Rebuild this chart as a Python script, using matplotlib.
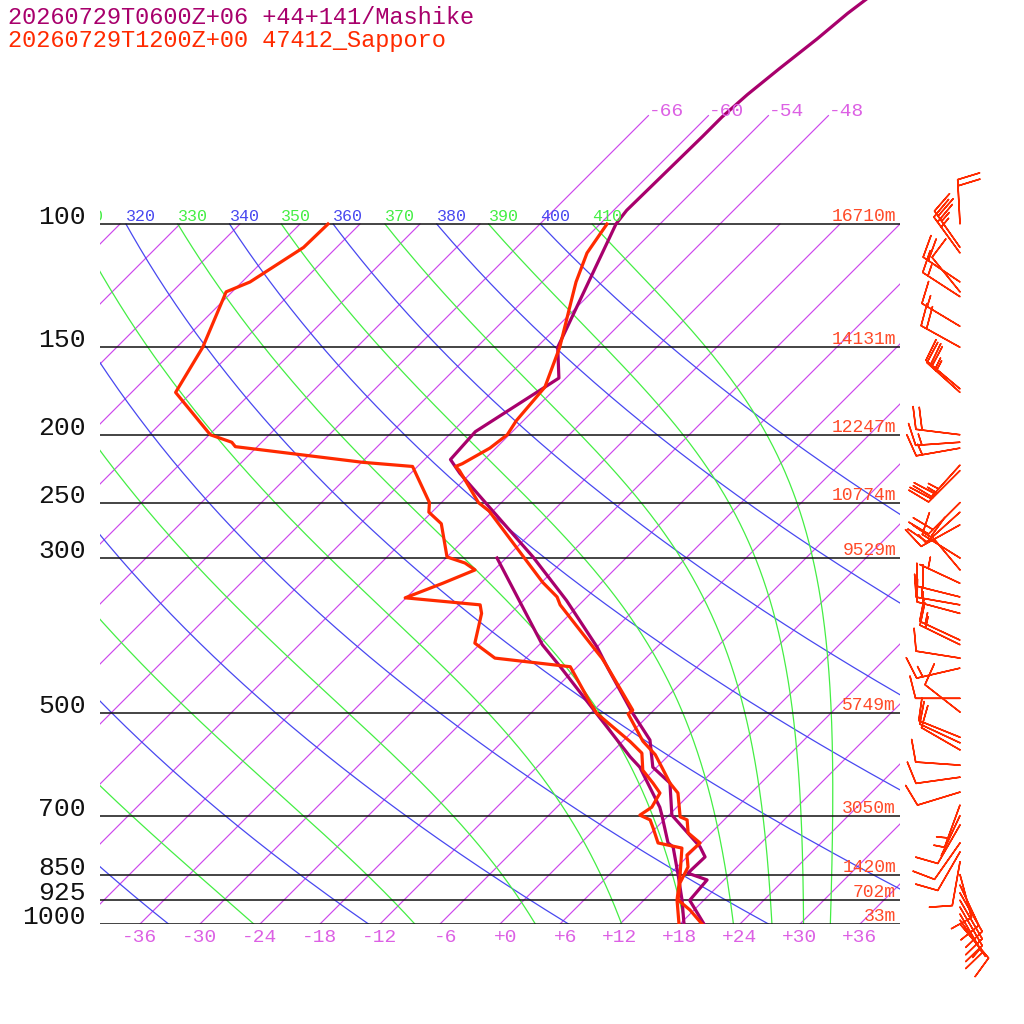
import numpy as np
import matplotlib
matplotlib.use("Agg")
import matplotlib.pyplot as plt
import matplotlib.transforms as mtransforms

plt.rcParams['font.family'] = ['Liberation Mono', 'DejaVu Sans Mono']

# ---- data ----
title_mashike = "20260729T0600Z+06 +44+141/Mashike"
title_sapporo = "20260729T1200Z+00 47412_Sapporo"

mashike_p = [1000, 925, 865, 846, 802, 776, 699, 629, 597, 546, 498, 431, 402, 345,
             299, 254, 227, 217, 198, 172, 166, 150, 100, 95.6, 74.9, 70.3, 65.3,
             60.0, 54.4, 50.0, 47.5]
mashike_t = [20.4, 16.6, 16.3, 13.7, 13.8, 12.3, 6.3, 2.9, -0.4, -3.4, -8.0, -14.8,
             -18.0, -25.7, -33.4, -42.7, -49.1, -51.4, -51.7, -49.3, -48.7, -51.9,
             -58.4, -58.7, -58.5, -58.5, -58.2, -57.6, -56.8, -56.3, -55.8]
mashike_td_p = [1000, 924, 846, 776, 766, 699, 681, 597, 577, 493, 429, 399, 300]
mashike_td = [18.4, 15.8, 12.7, 9.6, 8.7, 5.3, 4.3, -1.7, -3.7, -12.2, -19.7, -23.7, -36.9]

sapporo_p = [1000, 955, 924, 874, 829, 797, 766, 741, 710, 703, 650, 629, 597, 573,
             548, 501, 495, 429, 417, 402, 350, 341, 325, 257, 250, 225, 222, 220,
             209, 200, 191, 171, 150, 127, 121, 110, 100]
sapporo_t = [20.2, 17.6, 15.4, 13.9, 13.1, 11.8, 11.9, 9.7, 8.3, 7.3, 4.7, 2.9, 0.5,
             -1.4, -4.0, -8.2, -8.1, -15.0, -16.4, -18.4, -25.9, -27.0, -29.9, -42.4,
             -44.3, -49.4, -50.2, -49.8, -48.6, -48.2, -48.7, -49.2, -51.7, -55.5,
             -56.6, -58.4, -59.3]
sapporo_td_p = [1000, 924, 857, 779, 766, 729, 710, 699, 681, 650, 629, 603, 570, 549,
                500, 482, 429, 417, 397, 360, 350, 342, 326, 312, 305, 299, 268, 258,
                250, 222, 219, 208, 205, 200, 174, 150, 125, 121, 108, 100]
sapporo_td = [17.9, 15.3, 13.3, 10.6, 7.7, 5.7, 4.6, 3.1, 3.5, 2.9, 1.2, -1.1, -2.9,
              -5.2, -11.4, -13.2, -18.7, -27.1, -30.6, -32.9, -33.9, -42.1, -39.8,
              -37.9, -39.6, -42.0, -45.9, -48.3, -49.2, -54.5, -59.9, -74.2, -75.0,
              -77.9, -85.6, -87.4, -90.6, -89.2, -87.3, -87.2]

levels = [100, 150, 200, 250, 300, 500, 700, 850, 925, 1000]
heights = ["16710m", "14131m", "12247m", "10774m", "9529m", "5749m", "3050m",
           "1420m", "702m", "33m"]

wind_p = [100, 108, 110, 121, 125, 127, 140, 150, 172, 174, 200, 205, 209, 221, 225,
          250, 258, 269, 300, 312, 326, 341, 350, 360, 393, 399, 417, 431, 476, 498,
          541, 551, 564, 593, 617, 648, 676, 700, 722, 766, 789, 815, 850, 880, 903,
          925, 946, 968, 987, 1000]
wind_dir = [357, 325, 324, 304, 321, 303, 301, 299, 310, 312, 277, 266, 260, 222, 225,
            225, 228, 241, 302, 320, 295, 284, 280, 285, 295, 296, 279, 257, 270, 308,
            292, 295, 300, 274, 262, 253, 200, 205, 210, 215, 210, 190, 165, 155, 150,
            150, 150, 150, 145, 140]
wind_kt = [20, 25, 25, 20, 10, 15, 15, 20, 25, 25, 20, 15, 15, 25, 25,
           20, 20, 15, 10, 10, 5, 20, 15, 15, 15, 15, 10, 15, 10, 10,
           10, 10, 10, 10, 10, 10, 5, 5, 10, 10, 10, 10, 10, 10, 10,
           10, 10, 10, 5, 10]

isotherms = np.arange(-114, 37, 6)
top_isotherms = [-66, -60, -54, -48]
dry_thetas = np.arange(240, 401, 20)
moist_thetas = np.arange(250, 411, 20)
t_ticks = np.arange(-36, 37, 6)

c_mashike = "#a8006c"
c_sapporo = "#ff2a00"
c_iso = "#cc48ec"
c_iso_lab = "#dc60e4"
c_dry = "#4848f0"
c_moist = "#44ee44"
c_height = "#ff4a28"

P_TOP = 1000 * np.exp(-924 / 304)


def moist_adiabat(theta_top, p):
    def dtdp(pp, t):
        es = 6.112 * np.exp(17.67 * (t - 273.15) / (t - 29.65))
        rs = 0.622 * es / (pp - es)
        return (287.04 * t + 2.501e6 * rs) / (
            1005.7 + 2.501e6 ** 2 * rs * 0.622 / (287.04 * t * t)) / pp
    t = np.empty_like(p)
    t[0] = theta_top * (p[0] / 1000) ** 0.2857
    for i in range(len(p) - 1):
        h = p[i + 1] - p[i]
        k1 = dtdp(p[i], t[i])
        k2 = dtdp(p[i] + h / 2, t[i] + h * k1 / 2)
        k3 = dtdp(p[i] + h / 2, t[i] + h * k2 / 2)
        k4 = dtdp(p[i + 1], t[i] + h * k3)
        t[i + 1] = t[i] + h * (k1 + 2 * k2 + 2 * k3 + k4) / 6
    return t - 273.15


fig = plt.figure(figsize=(10.24, 10.24), dpi=100, facecolor='white')
ax = fig.add_axes([100 / 1024, 100 / 1024, 800 / 1024, 924 / 1024])
ax.set_yscale('log')
ax.set_xlim(-40, 40)
ax.set_ylim(1000, P_TOP)
ax.set_axis_off()
ax.set_autoscale_on(False)

# skewed coordinates: one pixel to the right per pixel upward
skew_mat = np.array([[1.0, 924 / 800, 0.0], [0.0, 1.0, 0.0], [0.0, 0.0, 1.0]])
skew = ax.transScale + ax.transLimits + mtransforms.Affine2D(skew_mat) + ax.transAxes

# isotherms
for t in isotherms:
    ptop = 70 if t in top_isotherms else 100
    ax.plot([t, t], [1000, ptop], color=c_iso, lw=0.85, transform=skew)
for t in top_isotherms:
    ax.text(t, 70, f"{t}", transform=skew, color=c_iso_lab, fontsize=14,
            ha='left', va='baseline')


def theta_label(th, color):
    # label sits at the line's position on the 100 hPa level; skip ones fully off the left edge
    t100 = th * 0.1 ** 0.2857 - 273.15
    if t100 + 70 < -40 - 3:
        return
    ax.text(t100, 100, f"{th}", transform=skew, color=color, fontsize=12,
            ha='left', va='bottom', clip_on=True)


# dry adiabats
pp = np.geomspace(1000, 100, 200)
for th in dry_thetas:
    ax.plot(th * (pp / 1000) ** 0.2857 - 273.15, pp, color=c_dry, lw=0.9, transform=skew)
    theta_label(th, c_dry)

# moist adiabats
pm = np.linspace(100, 1000, 451)
for th in moist_thetas:
    ax.plot(moist_adiabat(th, pm), pm, color=c_moist, lw=0.9, transform=skew)
    theta_label(th, c_moist)

# pressure levels and heights
for p, h in zip(levels, heights):
    ax.plot([-40, 40], [p, p], color='#111111', lw=1.1)
    ax.text(-41.4, p, f"{p}", color='#111111', fontsize=19, ha='right',
            va='baseline', clip_on=False)
    ax.text(39.6, p, h, color=c_height, fontsize=13, ha='right', va='baseline',
            transform=mtransforms.offset_copy(ax.transData, fig=fig, x=0, y=3,
                                              units='dots'))

# temperature labels along the bottom
lab_tr = mtransforms.offset_copy(ax.transData, fig=fig, x=17.5, y=-13, units='dots')
for t in t_ticks:
    ax.text(t, 1000, f"{t:+d}", transform=lab_tr, color=c_iso_lab, fontsize=14,
            ha='right', va='center', clip_on=False)

# soundings
ax.plot(mashike_t, mashike_p, color=c_mashike, lw=2.3, transform=skew)
ax.plot(mashike_td, mashike_td_p, color=c_mashike, lw=2.3, transform=skew)
ax.plot(sapporo_t, sapporo_p, color=c_sapporo, lw=2.3, transform=skew)
ax.plot(sapporo_td, sapporo_td_p, color=c_sapporo, lw=2.3, transform=skew)

# wind barbs
wd = np.deg2rad(wind_dir)
ws = np.array(wind_kt, dtype=float)
u = -ws * np.sin(wd)
v = -ws * np.cos(wd)
ax.barbs(np.full(len(wind_p), 46.0), wind_p, u, v, length=8, color=c_sapporo,
         linewidth=1.1, clip_on=False,
         sizes=dict(height=0.5, spacing=0.14, width=0.25))

fig.text(8 / 1024, 1 - 17 / 1024, title_mashike, color=c_mashike, fontsize=17,
         va='center', ha='left')
fig.text(8 / 1024, 1 - 41 / 1024, title_sapporo, color=c_sapporo, fontsize=17,
         va='center', ha='left')

fig.savefig("out.png", dpi=100, facecolor='white')
